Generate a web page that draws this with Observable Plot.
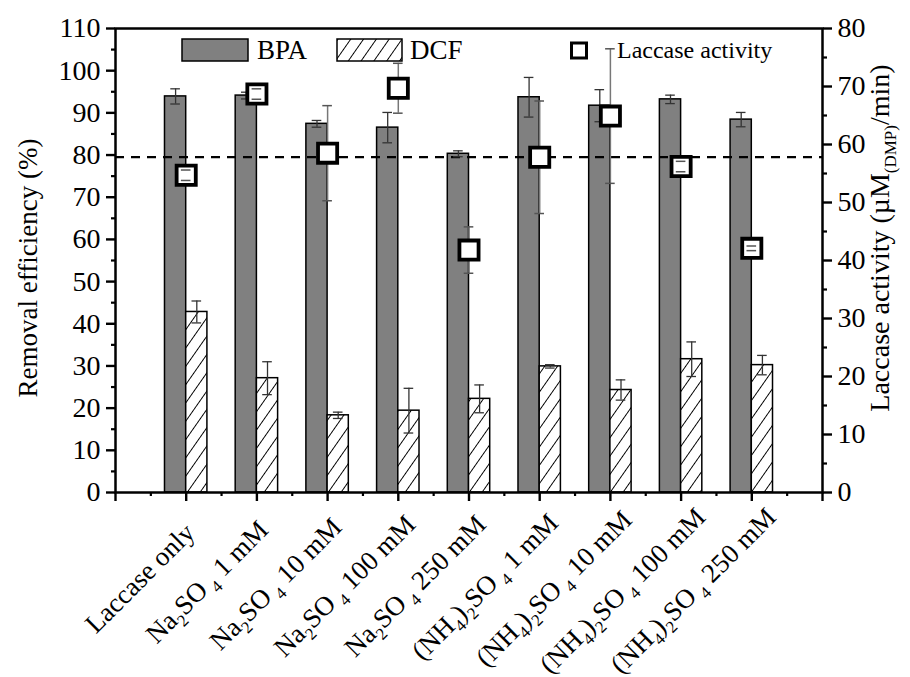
<!DOCTYPE html>
<html>
<head>
<meta charset="utf-8">
<script src="https://cdn.jsdelivr.net/npm/d3@7"></script>
<script src="https://cdn.jsdelivr.net/npm/@observablehq/plot@0.6"></script>
<style>
  body { margin: 0; background: #fff; }
  #chart { position: relative; width: 910px; height: 677px; }
  #chart svg { font-family: "Liberation Serif", "Times New Roman", serif; }
</style>
</head>
<body>
<div id="chart"></div>
<script>
// ---- data ----
const categories = ["Laccase only", "Na2SO4 1 mM", "Na2SO4 10 mM", "Na2SO4 100 mM", "Na2SO4 250 mM",
                    "(NH4)2SO4 1 mM", "(NH4)2SO4 10 mM", "(NH4)2SO4 100 mM", "(NH4)2SO4 250 mM"];
const bpa        = [93.9, 94.1, 87.4, 86.5, 80.3, 93.7, 91.7, 93.2, 88.4];
const bpaErr     = [1.8, 0.8, 0.8, 3.6, 0.7, 4.7, 3.8, 1.0, 1.7];
const dcf        = [42.8, 27.1, 18.3, 19.4, 22.2, 29.9, 24.3, 31.6, 30.2];
const dcfErr     = [2.6, 3.9, 0.75, 5.3, 3.3, 0.4, 2.4, 4.1, 2.3];
const laccase    = [54.7, 68.7, 58.5, 69.7, 41.8, 57.8, 64.9, 56.2, 42.1];
const laccaseErr = [0.9, 0.9, 8.2, 4.3, 4.0, 9.7, 11.6, 0.9, 0.4];
const referenceLine = 79.5;               // dashed line, left axis units
const leftTicks  = [0, 10, 20, 30, 40, 50, 60, 70, 80, 90, 100, 110];
const rightTicks = [0, 10, 20, 30, 40, 50, 60, 70, 80];
const leftMax = 110, rightMax = 80;

// ---- derived table ----
const k = leftMax / rightMax;             // right-axis units -> left-axis units
const bw = 0.3;                           // bar width (category units)
const cap = 0.068;                        // half error-cap width
const rows = categories.map((c, i) => ({
  pos: i + 1, label: c,
  bpa: bpa[i], bpaErr: bpaErr[i],
  dcf: dcf[i], dcfErr: dcfErr[i],
  lac: laccase[i] * k, lacErr: laccaseErr[i] * k
}));
const bpaX = d => d.pos - bw / 2;
const dcfX = d => d.pos + bw / 2;
const lacX = d => d.pos;

function whisker(xf, v, e, stroke, sw) {
  return Plot.ruleX(rows, {x: xf, y1: d => v(d) - e(d), y2: d => v(d) + e(d), stroke, strokeWidth: sw});
}
function caps(xf, v, e, stroke, sw) {
  return [
    Plot.ruleY(rows, {y: d => v(d) + e(d), x1: d => xf(d) - cap, x2: d => xf(d) + cap, stroke, strokeWidth: sw}),
    Plot.ruleY(rows, {y: d => v(d) - e(d), x1: d => xf(d) - cap, x2: d => xf(d) + cap, stroke, strokeWidth: sw})
  ];
}

const FONT = "'Liberation Serif', 'Times New Roman', serif";
const FS = 27;
const TFS = 28;
const svgEl = Plot.plot({
  width: 910, height: 677,
  marginLeft: 115, marginRight: 88, marginTop: 28, marginBottom: 185,
  x: {domain: [0, 10]},
  y: {domain: [0, leftMax]},
  style: {fontFamily: FONT, fontSize: FS + "px", color: "#000", background: "#fff", overflow: "visible"},
  marks: [
    Plot.rectY(rows, {x1: d => d.pos - bw, x2: d => d.pos, y1: 0, y2: "bpa", fill: "#808080", stroke: "#000", strokeWidth: 1.5}),
    Plot.rectY(rows, {x1: d => d.pos, x2: d => d.pos + bw, y1: 0, y2: "dcf", fill: "url(#hatch)", stroke: "#000", strokeWidth: 1.5}),
    Plot.ruleY([referenceLine], {stroke: "#000", strokeWidth: 2.2, strokeDasharray: "9,7"}),
    whisker(bpaX, d => d.bpa, d => d.bpaErr, "#333", 1.3),
    ...caps(bpaX, d => d.bpa, d => d.bpaErr, "#333", 1.3),
    whisker(dcfX, d => d.dcf, d => d.dcfErr, "#333", 1.3),
    ...caps(dcfX, d => d.dcf, d => d.dcfErr, "#333", 1.3),
    whisker(lacX, d => d.lac, d => d.lacErr, "#777", 1.5),
    Plot.dot(rows, {x: "pos", y: "lac", symbol: "square", r: 10.8, fill: "#fff", stroke: "#000", strokeWidth: 3.8}),
    ...caps(lacX, d => d.lac, d => d.lacErr, "#555", 1.5),
    // axes
    Plot.axisY({ticks: leftTicks, tickSize: 9, tickPadding: 6, strokeWidth: 2.4, fontSize: TFS, label: null}),
    Plot.axisY({ticks: d3.range(5, leftMax, 10), tickSize: 4, tickFormat: () => "", strokeWidth: 2.2, label: null}),
    Plot.axisY({anchor: "right", ticks: rightTicks.map(v => v * k), tickFormat: v => String(Math.round(v / k)), tickSize: 9, tickPadding: 6, strokeWidth: 2.4, fontSize: TFS, label: null}),
    Plot.axisY({anchor: "right", ticks: d3.range(5, rightMax, 10).map(v => v * k), tickSize: 4, tickFormat: () => "", strokeWidth: 2.2, label: null}),
    Plot.axisX({ticks: d3.range(0, 11), tickSize: 9, tickFormat: () => "", strokeWidth: 2.4, label: null}),
    Plot.axisX({ticks: d3.range(0.5, 10, 1), tickSize: 4, tickFormat: () => "", strokeWidth: 2.2, label: null}),
    Plot.text(rows, {x: "pos", frameAnchor: "bottom", text: "label", rotate: -45, textAnchor: "end", lineAnchor: "bottom", dx: -20, dy: 72, fontSize: FS}),
    Plot.frame({stroke: "#000", strokeWidth: 2.5})
  ]
});
document.getElementById("chart").appendChild(svgEl);

const svg = d3.select(svgEl);
const NS = "http://www.w3.org/2000/svg";

// hatch pattern
const defs = svg.insert("defs", ":first-child");
const pat = defs.append("pattern").attr("id", "hatch").attr("patternUnits", "userSpaceOnUse")
  .attr("width", 10.5).attr("height", 10.5).attr("patternTransform", "rotate(35)");
pat.append("rect").attr("width", 10.5).attr("height", 10.5).attr("fill", "#fff");
pat.append("line").attr("x1", 5.25).attr("y1", -1).attr("x2", 5.25).attr("y2", 11.5).attr("stroke", "#000").attr("stroke-width", 1);

// subscripts in category labels (digits directly after a letter or ')')
function writeChem(textNode, str, subSize, shift) {
  while (textNode.firstChild) textNode.removeChild(textNode.firstChild);
  const segs = [];
  let buf = "", sub = false, prevChar = "";
  for (let j = 0; j < str.length; j++) {
    const ch = str[j];
    const isSub = /\d/.test(ch) && j > 0 && (/[A-Za-z)]/.test(str[j - 1]) || (sub && /\d/.test(str[j - 1])));
    if (isSub !== sub && buf) { segs.push({t: buf, sub, prev: prevChar}); prevChar = buf[buf.length - 1]; buf = ""; }
    sub = isSub; buf += ch;
  }
  if (buf) segs.push({t: buf, sub, prev: prevChar});
  let shifted = false;
  for (const s of segs) {
    const ts = document.createElementNS(NS, "tspan");
    ts.textContent = s.t;
    if (s.sub) {
      ts.setAttribute("font-size", subSize);
      ts.setAttribute("dy", shift);
      if (s.prev === "O") ts.setAttribute("dx", 5);
      shifted = true;
    } else if (shifted) {
      ts.setAttribute("dy", -shift);
      shifted = false;
    }
    textNode.appendChild(ts);
  }
}
svg.selectAll("text").each(function () {
  if (!categories.includes(this.textContent)) return;
  writeChem(this, this.textContent, 17, 7);
  // slide each label along its baseline so that a point ~70% along it sits at the anchor
  const L = this.getComputedTextLength();
  const s = 0.3 * L * Math.SQRT1_2;
  const t = this.getAttribute("transform") || "";
  this.setAttribute("transform", `translate(${s.toFixed(1)},${(-s).toFixed(1)}) ` + t);
});

// axis titles
svg.append("text")
  .attr("transform", "translate(37,268) rotate(-90)")
  .attr("text-anchor", "middle").attr("font-family", FONT).attr("font-size", FS)
  .text("Removal efficiency (%)");
const rt = svg.append("text")
  .attr("transform", "translate(889,238) rotate(-90)")
  .attr("text-anchor", "middle").attr("font-family", FONT).attr("font-size", 28);
rt.append("tspan").text("Laccase activity (\u00B5M");
rt.append("tspan").attr("font-size", 17).attr("dy", 7).text("(DMP)");
rt.append("tspan").attr("dy", -7).text("/min)");

// legend
const lg = svg.append("g").attr("font-family", FONT).attr("text-anchor", "start");
lg.append("rect").attr("x", 182).attr("y", 39).attr("width", 66).attr("height", 22).attr("fill", "#808080").attr("stroke", "#000").attr("stroke-width", 1.5);
lg.append("text").attr("x", 257).attr("y", 59).attr("font-size", FS).attr("text-anchor", "start").text("BPA");
lg.append("rect").attr("x", 337).attr("y", 39).attr("width", 65).attr("height", 22).attr("fill", "url(#hatch)").attr("stroke", "#000").attr("stroke-width", 1.5);
lg.append("text").attr("x", 410).attr("y", 59).attr("font-size", FS).attr("text-anchor", "start").text("DCF");
lg.append("rect").attr("x", 571.5).attr("y", 43).attr("width", 15).attr("height", 15).attr("fill", "#fff").attr("stroke", "#000").attr("stroke-width", 3);
lg.append("text").attr("x", 617).attr("y", 58).attr("font-size", 24).attr("text-anchor", "start").text("Laccase activity");
</script>
</body>
</html>
